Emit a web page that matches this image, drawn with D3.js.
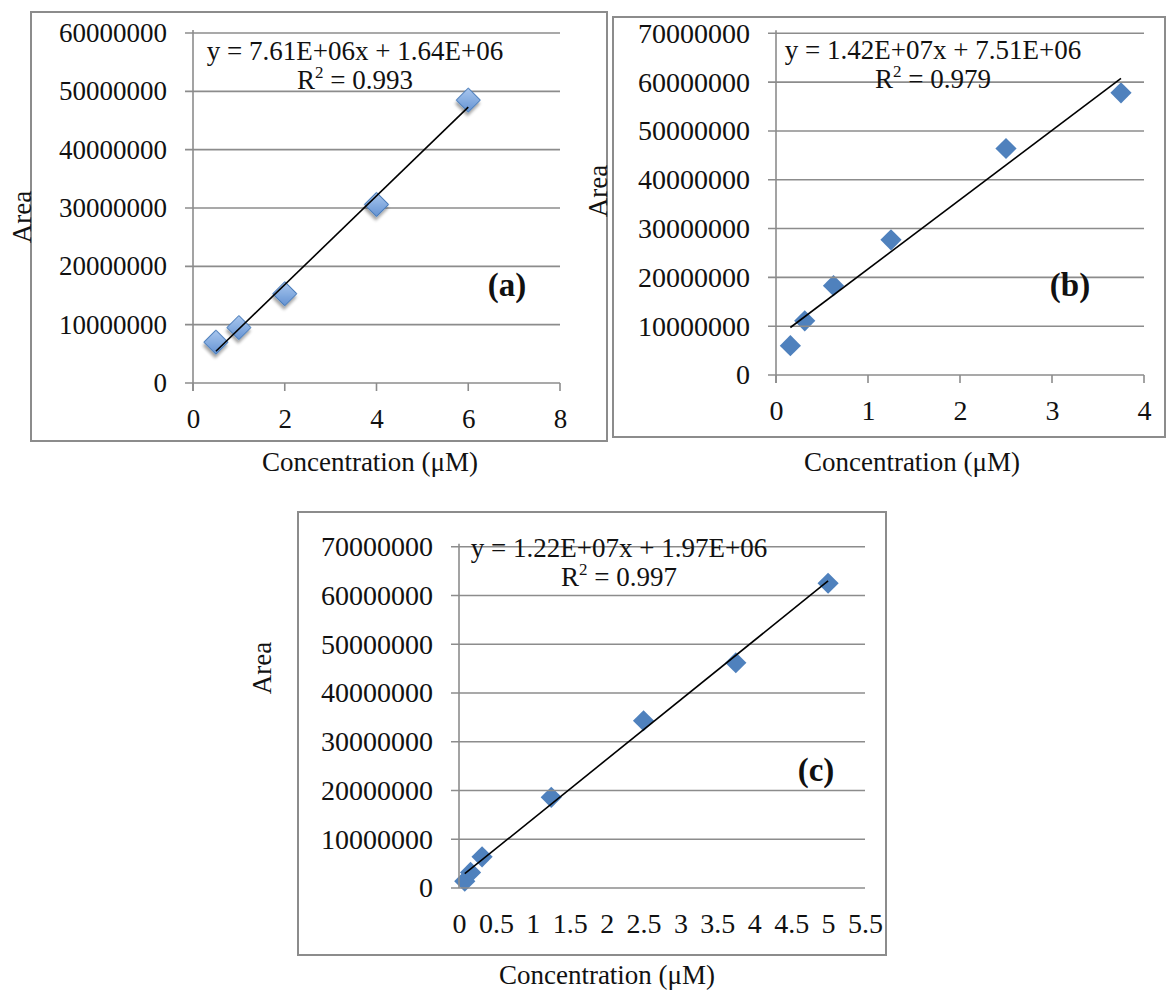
<!DOCTYPE html>
<html>
<head>
<meta charset="utf-8">
<script src="https://cdn.jsdelivr.net/npm/d3@7"></script>
<style>
  body { margin: 0; background: #fff; }
  svg { display: block; font-family: "Liberation Serif", "Times New Roman", serif; }
</style>
</head>
<body>
<div id="chart"></div>
<script>
// Calibration data
const concA = [0.5, 1, 2, 4, 6];
const areaA = [7.0e6, 9.5e6, 15.3e6, 30.6e6, 48.5e6];
const fitA = { slope: 7.61e6, intercept: 1.64e6, eq: "y = 7.61E+06x + 1.64E+06", r2: "0.993" };

const concB = [0.15625, 0.3125, 0.625, 1.25, 2.5, 3.75];
const areaB = [6.0e6, 11.1e6, 18.3e6, 27.7e6, 46.4e6, 57.8e6];
const fitB = { slope: 1.42e7, intercept: 7.51e6, eq: "y = 1.42E+07x + 7.51E+06", r2: "0.979" };

const concC = [0.078125, 0.15625, 0.3125, 1.25, 2.5, 3.75, 5];
const areaC = [1.4e6, 3.2e6, 6.4e6, 18.6e6, 34.3e6, 46.2e6, 62.5e6];
const fitC = { slope: 1.22e7, intercept: 1.97e6, eq: "y = 1.22E+07x + 1.97E+06", r2: "0.997" };

// Tick labels
const xTicksA = [0, 2, 4, 6, 8];
const yTicksA = [0, 10e6, 20e6, 30e6, 40e6, 50e6, 60e6];
const xTicksB = [0, 1, 2, 3, 4];
const yTicksB = [0, 10e6, 20e6, 30e6, 40e6, 50e6, 60e6, 70e6];
const xTicksC = [0, 0.5, 1, 1.5, 2, 2.5, 3, 3.5, 4, 4.5, 5, 5.5];
const yTicksC = [0, 10e6, 20e6, 30e6, 40e6, 50e6, 60e6, 70e6];

const xTitle = "Concentration (\u03bcM)";
const yTitle = "Area";

const W = 1168, H = 990;
const gridColor = "#8c8c8c";

const svg = d3.select("#chart").append("svg")
  .attr("width", W)
  .attr("height", H);

const defs = svg.append("defs");
const grad = defs.append("linearGradient")
  .attr("id", "markA")
  .attr("x1", 0).attr("y1", 0).attr("x2", 1).attr("y2", 1);
grad.append("stop").attr("offset", "0%").attr("stop-color", "#a9c7ee");
grad.append("stop").attr("offset", "100%").attr("stop-color", "#6593d3");
defs.append("filter")
  .attr("id", "shadow")
  .attr("x", "-50%").attr("y", "-50%").attr("width", "200%").attr("height", "200%")
  .append("feDropShadow")
  .attr("dx", 2).attr("dy", 3).attr("stdDeviation", 1.6)
  .attr("flood-color", "#000").attr("flood-opacity", 0.35);

// Panel layout (pixel boxes)
const panels = [
  {
    conc: concA, area: areaA, fit: fitA, xTicks: xTicksA, yTicks: yTicksA, tag: "(a)",
    frame: [31, 12, 607, 441], xr: [193, 560], yr: [383, 33], xmax: 8, ymax: 60e6,
    eqX: 355, eqY: 60, tagX: 507, tagY: 296, xtX: 370, xtY: 471, ytX: 31, ytY: 217,
    xTickMarks: true, tickFont: 27, fancy: true, markSide: 17
  },
  {
    conc: concB, area: areaB, fit: fitB, xTicks: xTicksB, yTicks: yTicksB, tag: "(b)",
    frame: [613, 17, 1165, 437], xr: [776, 1144], yr: [375, 33.3], xmax: 4, ymax: 70e6,
    eqX: 933, eqY: 59, tagX: 1070, tagY: 296, xtX: 912, xtY: 471, ytX: 607, ytY: 191,
    xTickMarks: true, tickFont: 28, fancy: false, markSide: 15
  },
  {
    conc: concC, area: areaC, fit: fitC, xTicks: xTicksC, yTicks: yTicksC, tag: "(c)",
    frame: [298, 512, 886, 955], xr: [459, 865], yr: [888, 546.7], xmax: 5.5, ymax: 70e6,
    eqX: 619, eqY: 557, tagX: 816, tagY: 781, xtX: 607, xtY: 984, ytX: 271, ytY: 668,
    xTickMarks: false, tickFont: 28, fancy: false, markSide: 15
  }
];

panels.forEach((p) => {
  const g = svg.append("g");
  const x = d3.scaleLinear().domain([0, p.xmax]).range(p.xr);
  const y = d3.scaleLinear().domain([0, p.ymax]).range(p.yr);

  // Chart frame
  g.append("rect")
    .attr("x", p.frame[0])
    .attr("y", p.frame[1])
    .attr("width", p.frame[2] - p.frame[0])
    .attr("height", p.frame[3] - p.frame[1])
    .attr("fill", "#fff")
    .attr("stroke", gridColor)
    .attr("stroke-width", 2);

  // Markers go under the grid and trendline
  const pts = p.conc.map((c, i) => ({ c: c, a: p.area[i] }));
  const diamond = d3.symbol().type(d3.symbolSquare).size(p.markSide * p.markSide);
  const markLayer = g.append("g");

  // Horizontal gridlines
  g.append("g")
    .selectAll("line")
    .data(p.yTicks)
    .enter()
    .append("line")
    .attr("x1", p.xr[0] - 8)
    .attr("x2", p.xr[1])
    .attr("y1", (d) => y(d))
    .attr("y2", (d) => y(d))
    .attr("stroke", gridColor)
    .attr("stroke-width", 1.6);

  // Vertical axis line
  g.append("line")
    .attr("x1", x(0)).attr("x2", x(0))
    .attr("y1", y(0) + (p.xTickMarks ? 8 : 0))
    .attr("y2", y(p.ymax) - 3)
    .attr("stroke", gridColor)
    .attr("stroke-width", 1.6);

  // X tick marks
  if (p.xTickMarks) {
    g.append("g")
      .selectAll("line")
      .data(p.xTicks)
      .enter()
      .append("line")
      .attr("x1", (d) => x(d))
      .attr("x2", (d) => x(d))
      .attr("y1", y(0))
      .attr("y2", y(0) + 8)
      .attr("stroke", gridColor)
      .attr("stroke-width", 1.6);
  }

  const marks = markLayer.selectAll("path")
    .data(pts)
    .enter()
    .append("path")
    .attr("d", diamond)
    .attr("transform", (d) => `translate(${x(d.c)},${y(d.a)}) rotate(45)`);
  if (p.fancy) {
    // panel (a) markers sit on top of the grid, with a shadow
    markLayer.raise();
    marks.attr("fill", "url(#markA)")
      .attr("stroke", "#4a7ebb")
      .attr("stroke-width", 1)
      .attr("filter", "url(#shadow)");
  } else {
    marks.attr("fill", "#4f81bd");
  }

  // Y tick labels
  const yAxis = g.append("g")
    .attr("transform", `translate(${x(0)},0)`)
    .call(d3.axisLeft(y).tickValues(p.yTicks).tickSize(0).tickPadding(26).tickFormat(d3.format("d")));
  yAxis.select(".domain").remove();
  yAxis.selectAll("text")
    .attr("font-family", "Liberation Serif")
    .attr("font-size", p.tickFont)
    .attr("fill", "#111");

  // X tick labels
  const xAxis = g.append("g")
    .attr("transform", `translate(0,${y(0)})`)
    .call(d3.axisBottom(x).tickValues(p.xTicks).tickSize(0).tickPadding(0).tickFormat((d) => String(d)));
  xAxis.select(".domain").remove();
  xAxis.selectAll("text")
    .attr("dy", null)
    .attr("y", 45)
    .attr("font-family", "Liberation Serif")
    .attr("font-size", p.tickFont)
    .attr("fill", "#111");

  // Trendline from the fitted equation
  const x0 = d3.min(p.conc), x1 = d3.max(p.conc);
  g.append("line")
    .attr("x1", x(x0))
    .attr("y1", y(p.fit.slope * x0 + p.fit.intercept))
    .attr("x2", x(x1))
    .attr("y2", y(p.fit.slope * x1 + p.fit.intercept))
    .attr("stroke", "#000")
    .attr("stroke-width", 1.6);

  // Equation and R²
  g.append("text")
    .attr("x", p.eqX)
    .attr("y", p.eqY)
    .attr("text-anchor", "middle")
    .attr("font-size", 27)
    .attr("fill", "#111")
    .text(p.fit.eq);
  const r2 = g.append("text")
    .attr("x", p.eqX)
    .attr("y", p.eqY + 29)
    .attr("text-anchor", "middle")
    .attr("font-size", 27)
    .attr("fill", "#111");
  r2.append("tspan").text("R");
  r2.append("tspan").attr("font-size", 17).attr("dy", -11).text("2");
  r2.append("tspan").attr("dy", 11).text(" = " + p.fit.r2);

  // Panel tag
  g.append("text")
    .attr("x", p.tagX)
    .attr("y", p.tagY)
    .attr("text-anchor", "middle")
    .attr("font-size", 33)
    .attr("font-weight", "bold")
    .attr("fill", "#111")
    .text(p.tag);

  // Axis titles
  svg.append("text")
    .attr("x", p.xtX)
    .attr("y", p.xtY)
    .attr("text-anchor", "middle")
    .attr("font-size", 27)
    .attr("fill", "#111")
    .text(xTitle);
  svg.append("text")
    .attr("transform", `translate(${p.ytX},${p.ytY}) rotate(-90)`)
    .attr("text-anchor", "middle")
    .attr("font-size", 27)
    .attr("fill", "#111")
    .text(yTitle);
});
</script>
</body>
</html>
